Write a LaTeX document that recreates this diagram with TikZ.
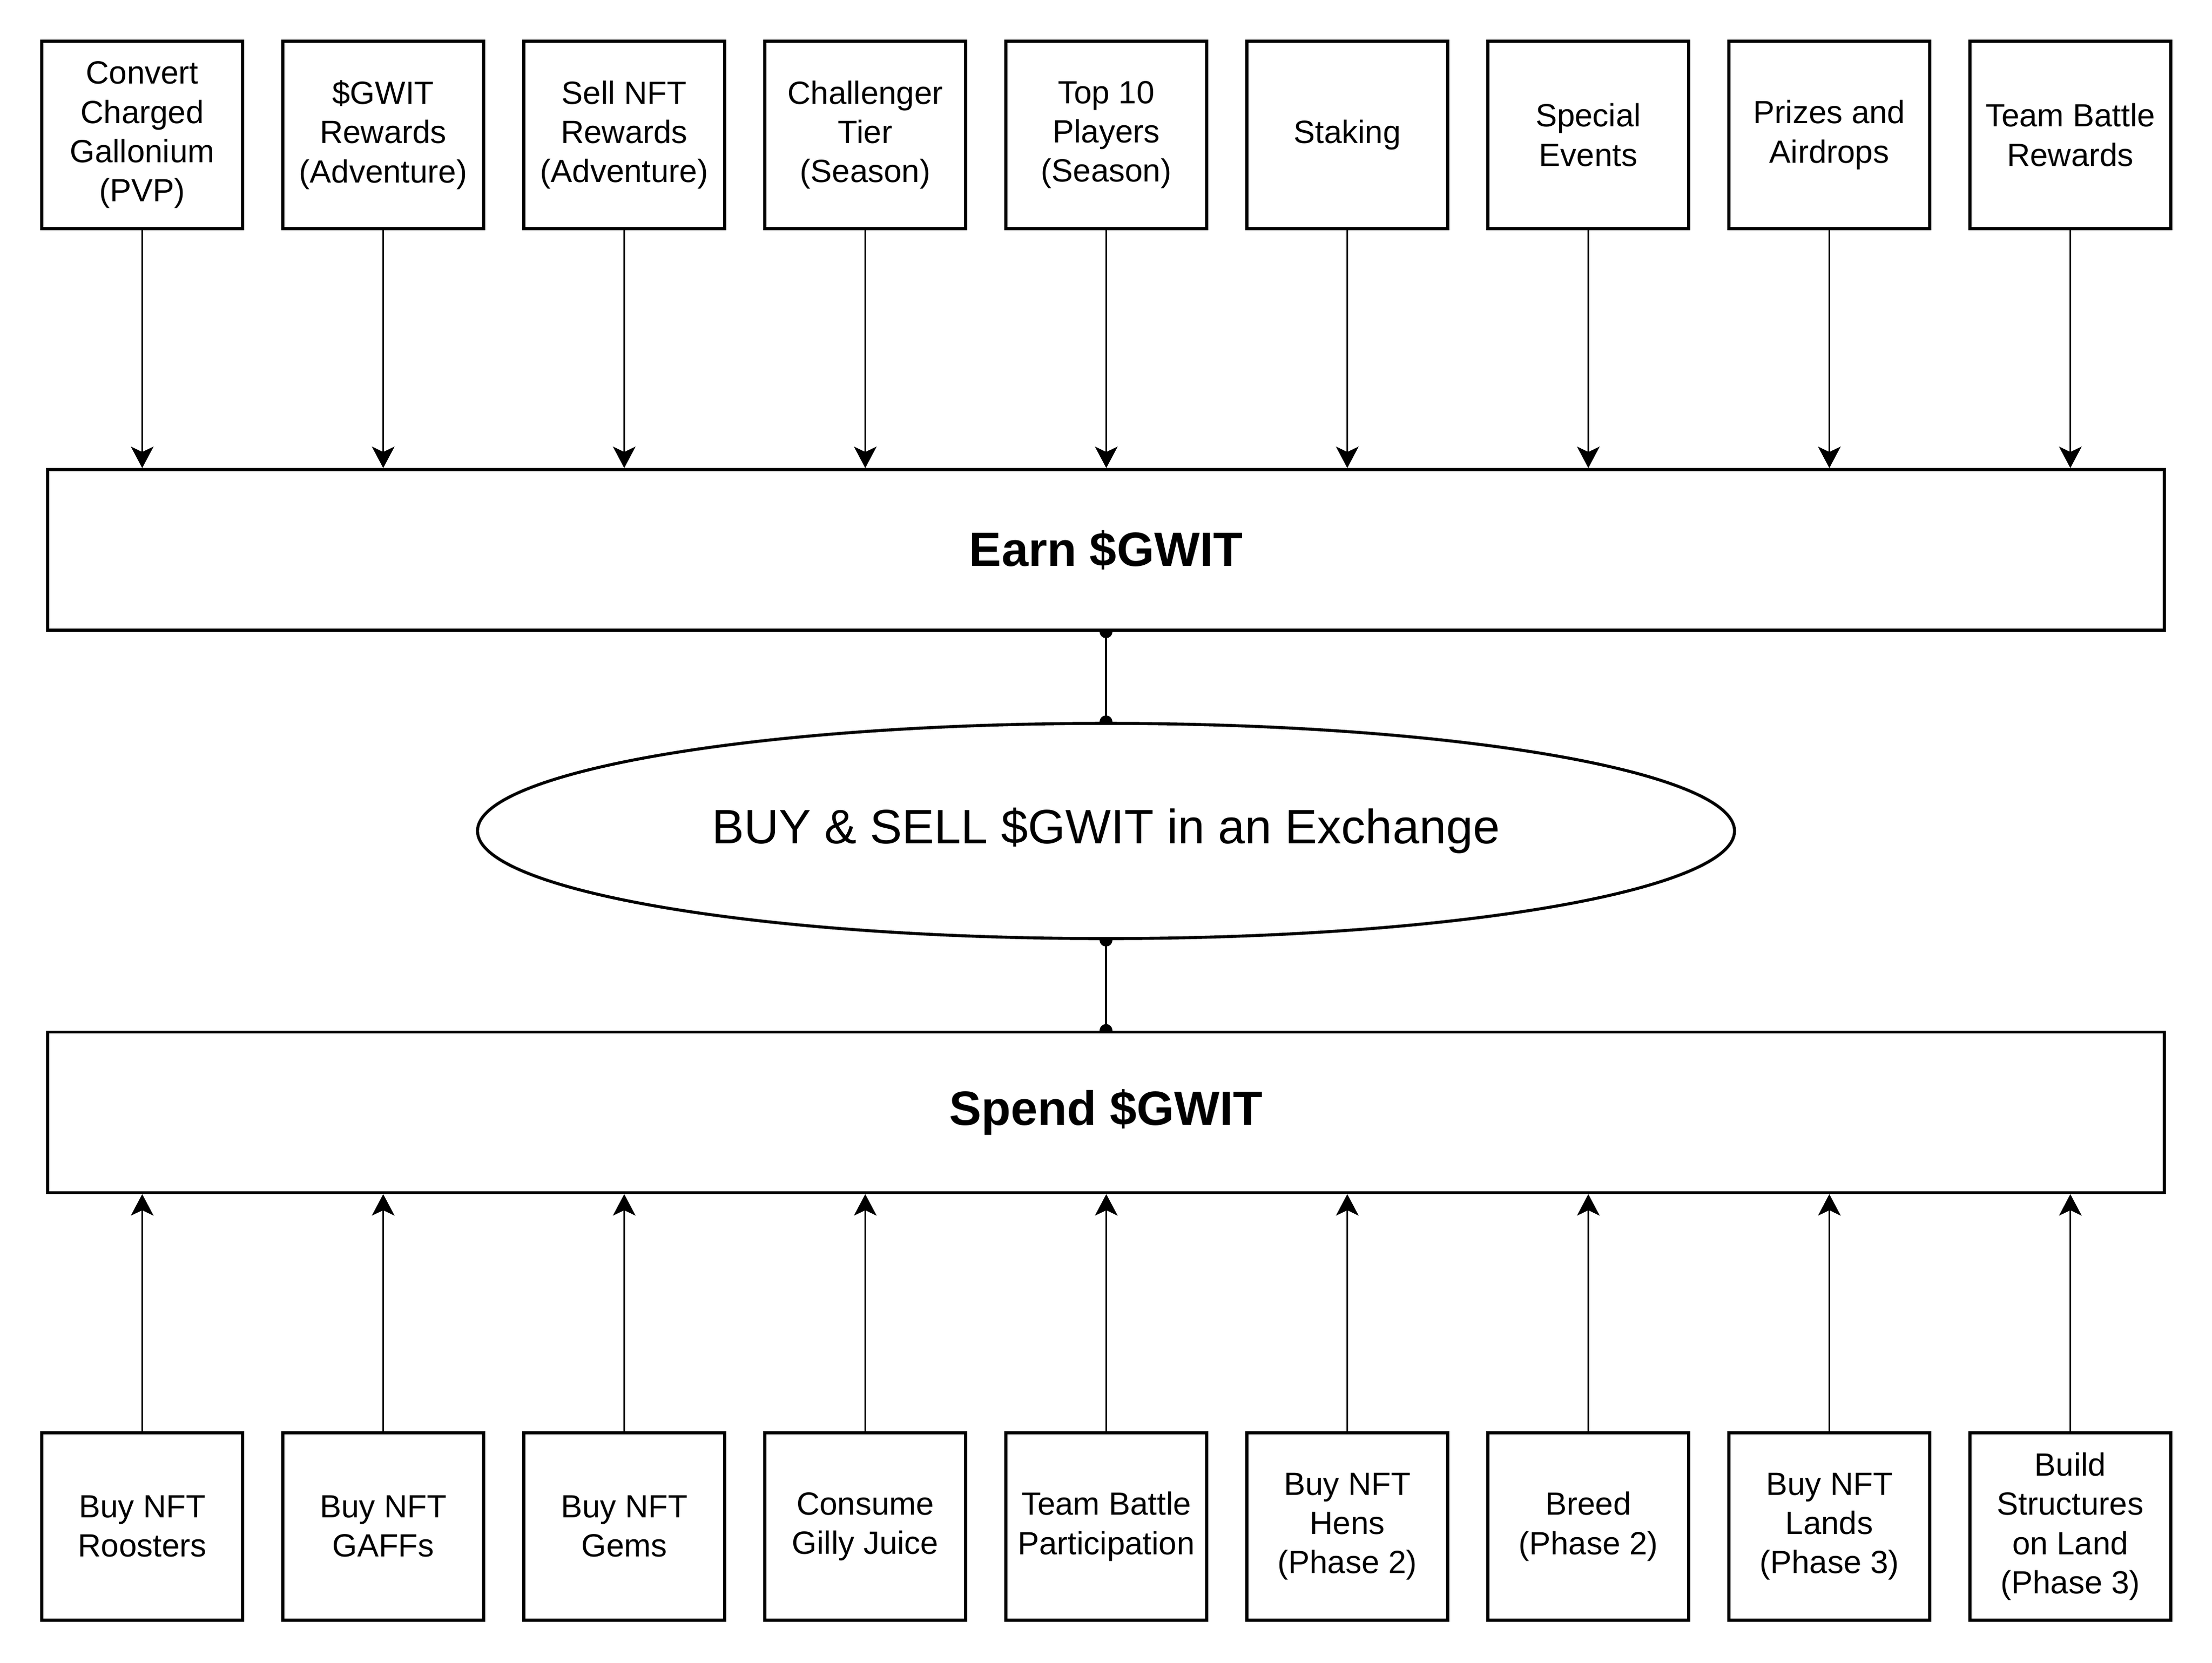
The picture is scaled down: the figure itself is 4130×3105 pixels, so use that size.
\documentclass[tikz,border=0pt]{standalone}
\usepackage{fontspec}
\setmainfont{Liberation Sans}
\usetikzlibrary{arrows.meta,shapes.geometric,backgrounds}

\tikzset{
	item/.style={draw=black,line width=1.4pt,fill=white,minimum width=93.75pt,minimum height=87.5pt,inner sep=0pt,align=center,font=\fontsize{15}{18.3}\selectfont},
	stage/.style={draw=black,line width=1.4pt,fill=white,minimum width=988pt,minimum height=75pt,inner sep=0pt,font=\fontsize{22.5}{27}\selectfont\bfseries},
	market/.style={ellipse,draw=black,line width=1.4pt,fill=white,minimum width=586.75pt,minimum height=100.5pt,inner sep=0pt,font=\fontsize{22.5}{27}\selectfont},
	flow/.style={black,line width=0.9pt,-{Stealth[length=10pt,width=10.5pt,inset=2.5pt]}},
	link/.style={black,line width=0.9pt,{Circle[length=6pt]}-{Circle[length=6pt]},shorten <=-3pt,shorten >=-3pt}
}

\begin{document}
\begin{tikzpicture}[x=0.25pt,y=-0.25pt]
	\useasboundingbox (0,0) rectangle (4130,3105);

	% ways to earn
	\node[item] (e1) at (265.5,252) {Convert\\Charged\\Gallonium\\(PVP)};
	\node[item] (e2) at (715.5,252) {\$GWIT\\Rewards\\(Adventure)};
	\node[item] (e3) at (1165.5,252) {Sell NFT\\Rewards\\(Adventure)};
	\node[item] (e4) at (1615.5,252) {Challenger\\Tier\\(Season)};
	\node[item] (e5) at (2065.5,252) {Top 10\\Players\\(Season)};
	\node[item] (e6) at (2515.5,252) {Staking};
	\node[item] (e7) at (2965.5,252) {Special\\Events};
	\node[item] (e8) at (3415.5,252) {Prizes and\\Airdrops};
	\node[item] (e9) at (3865.5,252) {Team Battle\\Rewards};

	\node[stage] (earn) at (2065,1027) {Earn \$GWIT};
	\node[market] (exchange) at (2065,1552) {BUY \& SELL \$GWIT in an Exchange};
	\node[stage] (spend) at (2065,2077.5) {Spend \$GWIT};

	% ways to spend
	\node[item] (s1) at (265.5,2851) {Buy NFT\\Roosters};
	\node[item] (s2) at (715.5,2851) {Buy NFT\\GAFFs};
	\node[item] (s3) at (1165.5,2851) {Buy NFT\\Gems};
	\node[item] (s4) at (1615.5,2851) {Consume\\Gilly Juice};
	\node[item] (s5) at (2065.5,2851) {Team Battle\\Participation};
	\node[item] (s6) at (2515.5,2851) {Buy NFT\\Hens\\(Phase 2)};
	\node[item] (s7) at (2965.5,2851) {Breed\\(Phase 2)};
	\node[item] (s8) at (3415.5,2851) {Buy NFT\\Lands\\(Phase 3)};
	\node[item] (s9) at (3865.5,2851) {Build\\Structures\\on Land\\(Phase 3)};

	\begin{pgfonlayer}{background}
		\foreach \i in {1,...,9} {
			\draw[flow] (e\i) -- (e\i |- earn.north);
			\draw[flow] (s\i) -- (s\i |- spend.south);
		}
		\draw[link] (earn) -- (exchange);
		\draw[link] (exchange) -- (spend);
	\end{pgfonlayer}
\end{tikzpicture}
\end{document}
